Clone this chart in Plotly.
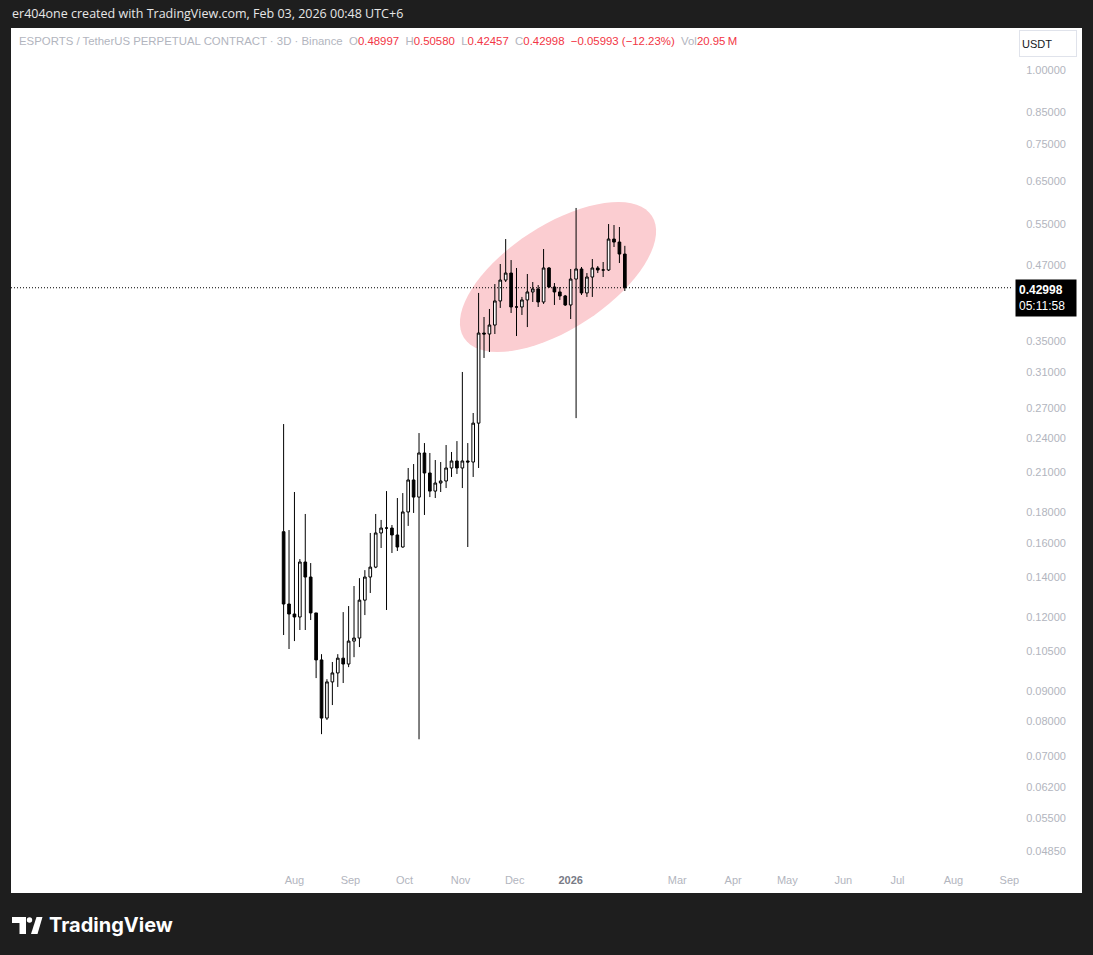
import math
import pandas as pd
import plotly.graph_objects as go

# ---------------- data ----------------
first_date = "2025-07-26"
n_candles = 64
dates = pd.date_range(first_date, periods=n_candles, freq="3D")

opens = [0.1670, 0.1262, 0.1214, 0.1200, 0.1485, 0.1401, 0.1219, 0.1016, 0.0811, 0.0933,
         0.0966, 0.1023, 0.1000, 0.1093, 0.1106, 0.1281, 0.1401, 0.1456, 0.1662, 0.1694,
         0.1694, 0.1649, 0.1574, 0.1803, 0.2041, 0.1910, 0.2266, 0.2097, 0.1955, 0.2017,
         0.2033, 0.2138, 0.2197, 0.2138, 0.2197, 0.2188, 0.2544, 0.3607, 0.3594, 0.3721,
         0.4085, 0.4430, 0.4552, 0.3991, 0.3991, 0.4101, 0.4230, 0.4280, 0.4069, 0.4642,
         0.4312, 0.4230, 0.4165, 0.4022, 0.4447, 0.4624, 0.4214, 0.4482, 0.4642, 0.4606,
         0.4606, 0.5193, 0.5133, 0.48997]
highs = [0.2535, 0.1681, 0.1948, 0.1502, 0.1789, 0.1479, 0.1219, 0.1039, 0.0943, 0.1008,
         0.1039, 0.1223, 0.1252, 0.1353, 0.1395, 0.1439, 0.1662, 0.1789, 0.1748, 0.1955,
         0.1714, 0.1903, 0.1940, 0.2138, 0.2171, 0.2448, 0.2355, 0.2266, 0.2205, 0.2188,
         0.2337, 0.2275, 0.2373, 0.3102, 0.2355, 0.2646, 0.4214, 0.3839, 0.3960, 0.4362,
         0.4714, 0.5193, 0.4787, 0.4642, 0.4149, 0.4535, 0.4396, 0.4345, 0.4996, 0.4660,
         0.4379, 0.4312, 0.4181, 0.4624, 0.5858, 0.4660, 0.4552, 0.4806, 0.4677, 0.4751,
         0.5504, 0.5483, 0.5441, 0.50580]
lows = [0.1119, 0.1060, 0.1093, 0.1141, 0.1141, 0.1186, 0.0947, 0.0762, 0.0805, 0.0853,
        0.0915, 0.0929, 0.0988, 0.1027, 0.1068, 0.1209, 0.1317, 0.1450, 0.1568, 0.1233,
        0.1538, 0.1550, 0.1570, 0.1708, 0.1796, 0.0747, 0.1782, 0.1910, 0.1903, 0.1948,
        0.1978, 0.2065, 0.2089, 0.1978, 0.1574, 0.2065, 0.2138, 0.3275, 0.3352, 0.3594,
        0.3976, 0.4396, 0.3899, 0.3566, 0.3869, 0.3692, 0.4069, 0.3991, 0.4038, 0.4296,
        0.4022, 0.4101, 0.4007, 0.3809, 0.2594, 0.4181, 0.4149, 0.4149, 0.4552, 0.4482,
        0.4588, 0.5035, 0.4732, 0.42457]
closes = [0.1262, 0.1214, 0.1200, 0.1485, 0.1401, 0.1219, 0.1016, 0.0811, 0.0933, 0.0966,
          0.1023, 0.1000, 0.1093, 0.1106, 0.1281, 0.1401, 0.1456, 0.1662, 0.1694, 0.1694,
          0.1649, 0.1574, 0.1803, 0.2041, 0.1910, 0.2266, 0.2097, 0.1955, 0.2017, 0.2033,
          0.2138, 0.2197, 0.2138, 0.2197, 0.2188, 0.2544, 0.3607, 0.3594, 0.3721, 0.4085,
          0.4430, 0.4552, 0.3991, 0.3991, 0.4101, 0.4230, 0.4280, 0.4069, 0.4642, 0.4312,
          0.4230, 0.4165, 0.4022, 0.4447, 0.4624, 0.4214, 0.4482, 0.4642, 0.4606, 0.4606,
          0.5193, 0.5133, 0.4900, 0.42998]

change_text = "\u22120.05993 (\u221212.23%)"
volume_text = "20.95\u2009M"
countdown_text = "05:11:58"

y_tick_values = [1.0, 0.85, 0.75, 0.65, 0.55, 0.47, 0.35, 0.31, 0.27, 0.24, 0.21,
                 0.18, 0.16, 0.14, 0.12, 0.105, 0.09, 0.08, 0.07, 0.062, 0.055, 0.0485]
x_tick_dates = ["2025-08-01", "2025-09-01", "2025-10-01", "2025-11-01", "2025-12-01",
                "2026-01-01", "2026-03-01", "2026-04-01", "2026-05-01", "2026-06-01",
                "2026-07-01", "2026-08-01", "2026-09-01"]
x_tick_labels = ["Aug", "Sep", "Oct", "Nov", "Dec", "2026", "Mar", "Apr", "May",
                 "Jun", "Jul", "Aug", "Sep"]

# ---------------- layout helpers ----------------
W, H = 1093, 955
PL, PR, PT, PB = 11, 1013, 28, 866   # plot area in pixels


def px(x):
    return (x - PL) / (PR - PL)


def py(y):
    return (PB - y) / (PB - PT)


BG_DARK = "#1e1e1e"
GRAY = "#b2b5be"
RED = "#f23645"
FONT = "Liberation Sans, Arial, sans-serif"

fig = go.Figure()
fig.add_trace(go.Candlestick(
    x=dates, open=opens, high=highs, low=lows, close=closes,
    increasing=dict(line=dict(color="#000000", width=1), fillcolor="#ffffff"),
    decreasing=dict(line=dict(color="#000000", width=1), fillcolor="#000000"),
    whiskerwidth=0, showlegend=False, hoverinfo="skip",
))

# ellipse highlight (drawing) — rotated ellipse in pixel geometry
ecx, ecy, ea, eb, eang = 558, 277, 112, 52, math.radians(33)
pts = []
for k in range(73):
    t = 2 * math.pi * k / 72
    xx = ecx + ea * math.cos(t) * math.cos(eang) - eb * math.sin(t) * math.sin(eang)
    yy = ecy - (ea * math.cos(t) * math.sin(eang) + eb * math.sin(t) * math.cos(eang))
    pts.append((px(xx), py(yy)))
path = "M" + " L".join(f"{a:.5f},{b:.5f}" for a, b in pts) + " Z"

shapes = [
    # white chart panel
    dict(type="rect", xref="paper", yref="paper", x0=px(11), x1=px(1082), y0=py(893), y1=py(28),
         fillcolor="#ffffff", line=dict(width=0), layer="below"),
    dict(type="path", xref="paper", yref="paper", path=path, fillcolor="#fbcdd1",
         line=dict(width=0), layer="below"),
    # last price dotted line
    dict(type="line", xref="paper", yref="y", x0=0, x1=1, y0=closes[-1], y1=closes[-1],
         line=dict(color="#000000", width=1, dash="1px,2px"), layer="above"),
]

# TradingView logo glyph
logo_fill = "#ffffff"


def ppath(coords):
    return "M" + " L".join(f"{px(a):.5f},{py(b):.5f}" for a, b in coords) + " Z"


shapes.append(dict(type="path", xref="paper", yref="paper",
                   path=ppath([(12, 917), (26, 917), (26, 934), (19.5, 934), (19.5, 923), (12, 923)]),
                   fillcolor=logo_fill, line=dict(width=0)))
shapes.append(dict(type="circle", xref="paper", yref="paper",
                   x0=px(26.8), x1=px(32.2), y0=py(922.7), y1=py(917.3),
                   fillcolor=logo_fill, line=dict(width=0)))
shapes.append(dict(type="path", xref="paper", yref="paper",
                   path=ppath([(31, 934), (36.5, 917), (42.5, 917), (37.5, 934)]),
                   fillcolor=logo_fill, line=dict(width=0)))

last = len(closes) - 1
header = (
    f"<span style='color:{GRAY}'>ESPORTS / TetherUS PERPETUAL CONTRACT · 3D · Binance</span>"
    f"  <span style='color:{GRAY}'>O</span><span style='color:{RED}'>{opens[last]:.5f}</span>"
    f"  <span style='color:{GRAY}'>H</span><span style='color:{RED}'>{highs[last]:.5f}</span>"
    f"  <span style='color:{GRAY}'>L</span><span style='color:{RED}'>{lows[last]:.5f}</span>"
    f"  <span style='color:{GRAY}'>C</span><span style='color:{RED}'>{closes[last]:.5f}</span>"
    f"  <span style='color:{RED}'>{change_text}</span>"
    f"  <span style='color:{GRAY}'>Vol</span><span style='color:{RED}'>{volume_text}</span>"
)

annotations = [
    dict(xref="paper", yref="paper", x=px(10), y=py(14), xanchor="left", yanchor="middle",
         text="er404one created with TradingView.com, Feb 03, 2026 00:48 UTC+6",
         showarrow=False, font=dict(family="Open Sans, sans-serif", size=12.5, color="#e6e6e6")),
    dict(xref="paper", yref="paper", x=px(17), y=py(41), xanchor="left", yanchor="middle",
         text=header, showarrow=False, font=dict(family=FONT, size=11.4, color=GRAY)),
    dict(xref="paper", yref="paper", x=px(1019), y=py(30), xanchor="left", yanchor="top",
         text="USDT", showarrow=False, width=52, height=21, align="left",
         bgcolor="#ffffff", bordercolor="#e0e3eb", borderwidth=1, borderpad=2,
         font=dict(family=FONT, size=11, color="#131722")),
    dict(xref="paper", yref="paper", x=px(1015), y=py(279), xanchor="left", yanchor="top",
         text=f"<b>{closes[-1]:.5f}</b><br>{countdown_text}", showarrow=False, align="left",
         bgcolor="#000000", borderpad=3, width=54,
         font=dict(family=FONT, size=12, color="#ffffff")),
    dict(xref="paper", yref="paper", x=px(47), y=py(925), xanchor="left", yanchor="middle",
         text="<b>TradingView</b>", showarrow=False,
         font=dict(family="Inter, sans-serif", size=20, color="#ffffff")),
]

ticktext_x = [f"<b><span style='color:#787b86'>{t}</span></b>" if t == "2026" else t
              for t in x_tick_labels]

fig.update_layout(
    width=W, height=H,
    margin=dict(l=PL, r=W - PR, t=PT, b=H - PB, pad=0),
    paper_bgcolor=BG_DARK, plot_bgcolor="rgba(0,0,0,0)",
    shapes=shapes, annotations=annotations,
    showlegend=False, hovermode=False,
    xaxis=dict(type="date", range=["2025-02-25", "2026-09-03"],
               rangeslider=dict(visible=False), showgrid=False, zeroline=False,
               showline=False, tickvals=x_tick_dates, ticktext=ticktext_x,
               ticks="outside", ticklen=4, tickcolor="rgba(0,0,0,0)",
               tickfont=dict(family=FONT, size=11, color=GRAY)),
    yaxis=dict(type="log", side="right", range=[-1.340, 0.0707], showgrid=False,
               zeroline=False, showline=False, tickvals=y_tick_values,
               ticktext=[f"{v:.5f}" for v in y_tick_values],
               ticks="outside", ticklen=10, tickcolor="rgba(0,0,0,0)",
               tickfont=dict(family=FONT, size=11, color=GRAY)),
)

fig.write_html(
    "out.html",
    config={"displayModeBar": False},
    post_script="document.body.style.margin='0';document.body.style.overflow='hidden';"
                f"document.body.style.background='{BG_DARK}';",
)
